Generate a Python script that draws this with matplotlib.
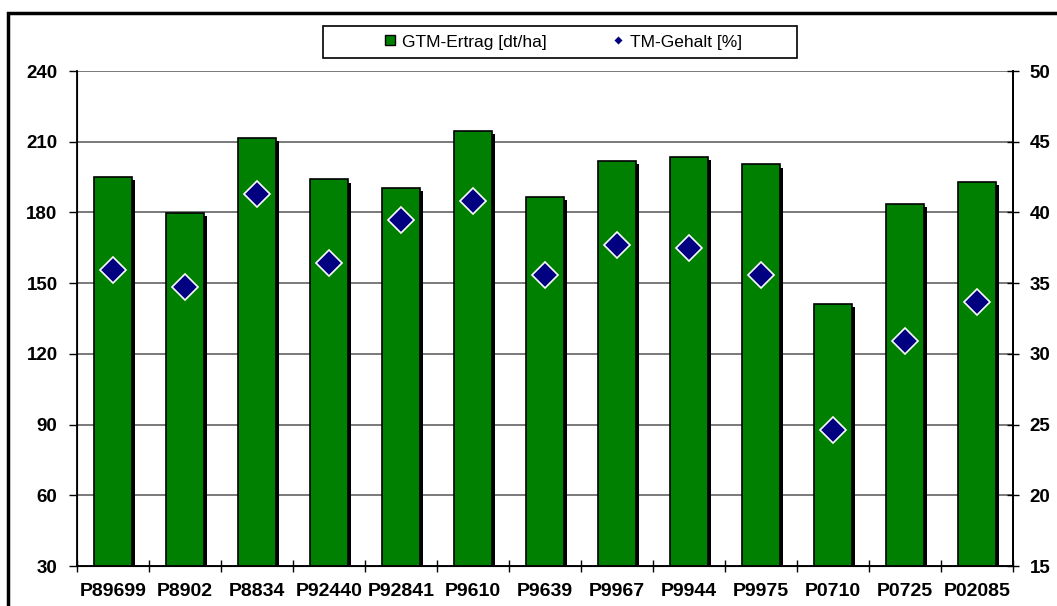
import matplotlib
matplotlib.use("Agg")
import matplotlib.pyplot as plt
import matplotlib.patheffects as pe
from matplotlib.lines import Line2D
from matplotlib.patches import Rectangle
import numpy as np

plt.rcParams['font.family'] = ['Liberation Sans', 'DejaVu Sans']

sorten = ['P89699', 'P8902', 'P8834', 'P92440', 'P92841', 'P9610', 'P9639',
          'P9967', 'P9944', 'P9975', 'P0710', 'P0725', 'P02085']
gtm_ertrag = [195.0, 179.8, 211.6, 194.0, 190.4, 214.6, 186.5,
              201.7, 203.7, 200.4, 141.3, 183.6, 192.8]   # dt/ha
tm_gehalt = [35.9, 34.7, 41.3, 36.4, 39.5, 40.8, 35.6,
             37.7, 37.5, 35.6, 24.6, 30.9, 33.7]          # %

links_ticks = [30, 60, 90, 120, 150, 180, 210, 240]
rechts_ticks = [15, 20, 25, 30, 35, 40, 45, 50]

fig = plt.figure(figsize=(10.57, 6.06), dpi=100)
ax = fig.add_axes([0.0728, 0.066, 0.8856, 0.8168])
x = np.arange(len(sorten))

schatten = [pe.SimplePatchShadow(offset=(2.3, -2.3), shadow_rgbFace='black', alpha=1), pe.Normal()]
ax.bar(x, gtm_ertrag, width=0.53, color='#008000', edgecolor='black', linewidth=1.2,
       path_effects=schatten, zorder=2)

ax.set_xlim(-0.5, len(sorten) - 0.5)
ax.set_ylim(30, 240)
ax.set_yticks(links_ticks)
ax.set_axisbelow(True)
ax.yaxis.grid(True, color='#555555', linewidth=1.1)
ax.set_xticks(x)
ax.set_xticklabels(sorten, fontweight='bold', fontsize=14)
ax.set_xticks(np.arange(len(sorten) + 1) - 0.5, minor=True)
ax.tick_params(axis='x', which='major', length=0, pad=12)
ax.tick_params(axis='x', which='minor', length=8, direction='inout', width=1)
ax.tick_params(axis='y', length=6, width=1, pad=8, labelsize=13.5)
for lab in ax.get_yticklabels():
    lab.set_fontweight('bold')
ax.spines['top'].set_visible(False)
for s in ['left', 'bottom', 'right']:
    ax.spines[s].set_linewidth(1.3)

ax2 = ax.twinx()
ax2.plot(x, tm_gehalt, ls='none', marker='D', ms=13.5, color='#000080',
         markeredgecolor='white', markeredgewidth=1.2, zorder=5)
ax2.set_ylim(15, 50)
ax2.set_yticks(rechts_ticks)
ax2.tick_params(axis='y', length=8, width=1, direction='inout', pad=8, labelsize=13.5)
for lab in ax2.get_yticklabels():
    lab.set_fontweight('bold')
ax2.spines['top'].set_visible(False)
ax2.spines['right'].set_linewidth(1.3)

handles = [Line2D([], [], ls='none', marker='s', ms=7, color='#008000', markeredgecolor='black'),
           Line2D([], [], ls='none', marker='D', ms=5, color='#000080', markeredgecolor='white')]
fig.legend(handles, ['GTM-Ertrag [dt/ha]', 'TM-Gehalt [%]'], loc='center',
           bbox_to_anchor=(0.532, 0.9307), ncol=2, frameon=False, fontsize=12.5,
           handlelength=0.8, handletextpad=0.3, columnspacing=3.7)

fig.patches.append(Rectangle((323 / 1057, (606 - 58) / 606), 474 / 1057, 32 / 606,
                             transform=fig.transFigure, fill=False, edgecolor='black', linewidth=1.2))
fig.patches.append(Rectangle((8 / 1057, -0.05), 1.1, 0.05 + (606 - 13) / 606,
                             transform=fig.transFigure, fill=False, edgecolor='black', linewidth=2.5))

fig.savefig('out.png', dpi=100)
